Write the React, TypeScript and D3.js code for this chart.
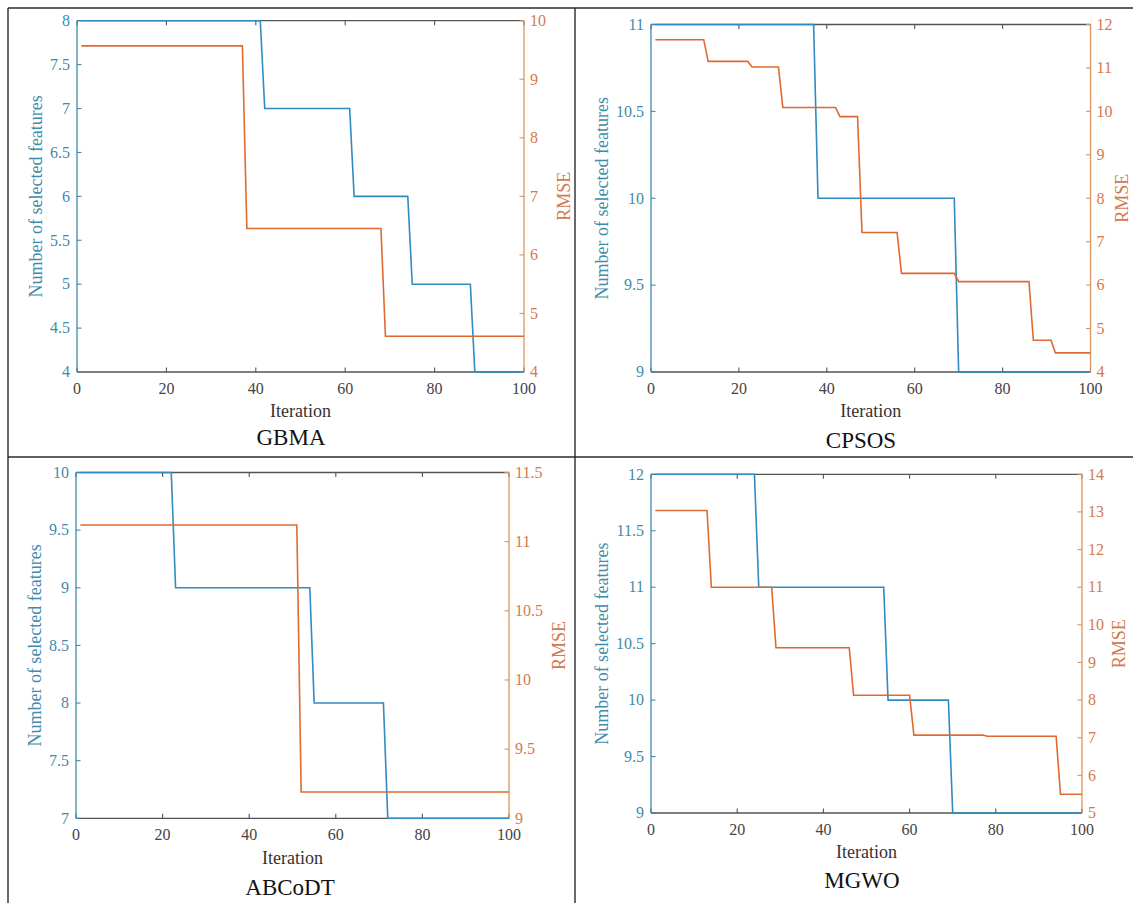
import React from "react";
import * as d3 from "d3";

// Shared iteration axis
const iterTicks = [0, 20, 40, 60, 80, 100];

// GBMA: vertices of the convergence curves (iteration, value)
const gbmaFeatIter = [1, 41, 42, 61, 62, 74, 75, 88, 89, 100];
const gbmaFeatVal = [8, 8, 7, 7, 6, 6, 5, 5, 4, 4];
const gbmaRmseIter = [1, 37, 38, 68, 69, 100];
const gbmaRmseVal = [9.57, 9.57, 6.45, 6.45, 4.61, 4.61];
const gbmaFeatTicks = [4, 4.5, 5, 5.5, 6, 6.5, 7, 7.5, 8];
const gbmaRmseTicks = [4, 5, 6, 7, 8, 9, 10];

// CPSOS
const cpsosFeatIter = [1, 37, 38, 69, 70, 100];
const cpsosFeatVal = [11, 11, 10, 10, 9, 9];
const cpsosRmseIter = [1, 12, 13, 22, 23, 29, 30, 42, 43, 47, 48, 56, 57, 69, 70, 86, 87, 91, 92, 100];
const cpsosRmseVal = [11.65, 11.65, 11.15, 11.15, 11.02, 11.02, 10.09, 10.09, 9.88, 9.88, 7.21, 7.21, 6.27, 6.27, 6.08, 6.08, 4.73, 4.73, 4.44, 4.44];
const cpsosFeatTicks = [9, 9.5, 10, 10.5, 11];
const cpsosRmseTicks = [4, 5, 6, 7, 8, 9, 10, 11, 12];

// ABCoDT
const abcFeatIter = [1, 22, 23, 54, 55, 71, 72, 100];
const abcFeatVal = [10, 10, 9, 9, 8, 8, 7, 7];
const abcRmseIter = [1, 51, 52, 100];
const abcRmseVal = [11.12, 11.12, 9.19, 9.19];
const abcFeatTicks = [7, 7.5, 8, 8.5, 9, 9.5, 10];
const abcRmseTicks = [9, 9.5, 10, 10.5, 11, 11.5];

// MGWO
const mgwoFeatIter = [1, 24, 25, 54, 55, 69, 70, 100];
const mgwoFeatVal = [12, 12, 11, 11, 10, 10, 9, 9];
const mgwoRmseIter = [1, 13, 14, 28, 29, 46, 47, 60, 61, 77, 78, 94, 95, 100];
const mgwoRmseVal = [13.04, 13.04, 11.0, 11.0, 9.39, 9.39, 8.13, 8.13, 7.07, 7.07, 7.04, 7.04, 5.5, 5.5];
const mgwoFeatTicks = [9, 9.5, 10, 10.5, 11, 11.5, 12];
const mgwoRmseTicks = [5, 6, 7, 8, 9, 10, 11, 12, 13, 14];

const titles = ["GBMA", "CPSOS", "ABCoDT", "MGWO"];

const panels = [
  {
    title: titles[0],
    featIter: gbmaFeatIter, featVal: gbmaFeatVal, featTicks: gbmaFeatTicks,
    rmseIter: gbmaRmseIter, rmseVal: gbmaRmseVal, rmseTicks: gbmaRmseTicks,
    box: { left: 77, right: 524, top: 20.7, bottom: 372 },
    titleX: 291, titleY: 445, iterY: 417, featX: 36, rmseX: 564,
  },
  {
    title: titles[1],
    featIter: cpsosFeatIter, featVal: cpsosFeatVal, featTicks: cpsosFeatTicks,
    rmseIter: cpsosRmseIter, rmseVal: cpsosRmseVal, rmseTicks: cpsosRmseTicks,
    box: { left: 651, right: 1090.5, top: 24.5, bottom: 372 },
    titleX: 861, titleY: 448, iterY: 417, featX: 602, rmseX: 1122,
  },
  {
    title: titles[2],
    featIter: abcFeatIter, featVal: abcFeatVal, featTicks: abcFeatTicks,
    rmseIter: abcRmseIter, rmseVal: abcRmseVal, rmseTicks: abcRmseTicks,
    box: { left: 76, right: 509, top: 472.5, bottom: 818.3 },
    titleX: 290, titleY: 895, iterY: 863.5, featX: 34.5, rmseX: 558.5,
  },
  {
    title: titles[3],
    featIter: mgwoFeatIter, featVal: mgwoFeatVal, featTicks: mgwoFeatTicks,
    rmseIter: mgwoRmseIter, rmseVal: mgwoRmseVal, rmseTicks: mgwoRmseTicks,
    box: { left: 651, right: 1082, top: 474.3, bottom: 813 },
    titleX: 862, titleY: 888, iterY: 858, featX: 602, rmseX: 1119,
  },
];

const FONT = "Liberation Serif";
const BLUE_LINE = "#2f8bc2";
const BLUE_AXIS = "#3f8bab";
const ORANGE_LINE = "#df6a30";
const ORANGE_AXIS = "#d27a4e";
const ORANGE_SPINE = "#d9955f";
const GREY = "#555";
const TICK = 4.5;

function Label(props: any) {
  const { children, ...rest } = props;
  return (
    <text {...rest} fontFamily={FONT} style={{ fontFamily: FONT }}>
      {children}
    </text>
  );
}

function Panel({ p }: { p: (typeof panels)[number] }) {
  const { left, right, top, bottom } = p.box;
  const x = d3.scaleLinear().domain([0, 100]).range([left, right]);
  const yL = d3
    .scaleLinear()
    .domain(d3.extent(p.featTicks) as [number, number])
    .range([bottom, top]);
  const yR = d3
    .scaleLinear()
    .domain(d3.extent(p.rmseTicks) as [number, number])
    .range([bottom, top]);

  const featLine = d3
    .line<number>()
    .x((_, i) => x(p.featIter[i]))
    .y((v) => yL(v));
  const rmseLine = d3
    .line<number>()
    .x((_, i) => x(p.rmseIter[i]))
    .y((v) => yR(v));

  const midY = (top + bottom) / 2;
  const midX = (left + right) / 2;

  return (
    <g>
      {/* top and bottom spines */}
      <line x1={left} x2={right} y1={top} y2={top} stroke={GREY} strokeWidth={1.3} />
      <line x1={left} x2={right} y1={bottom} y2={bottom} stroke={GREY} strokeWidth={1.3} />
      {/* x ticks, inward at bottom and top */}
      {iterTicks.map((t) => (
        <g key={"x" + t}>
          <line x1={x(t)} x2={x(t)} y1={bottom} y2={bottom - TICK} stroke={GREY} strokeWidth={1.1} />
          <line x1={x(t)} x2={x(t)} y1={top} y2={top + TICK} stroke={GREY} strokeWidth={1.1} />
          <Label x={x(t)} y={bottom + 22} textAnchor="middle" fontSize={16} fill="#444">
            {t}
          </Label>
        </g>
      ))}
      {/* left axis */}
      <line x1={left} x2={left} y1={top} y2={bottom} stroke={BLUE_AXIS} strokeWidth={1.3} />
      {p.featTicks.map((t) => (
        <g key={"l" + t}>
          <line x1={left} x2={left + TICK} y1={yL(t)} y2={yL(t)} stroke={BLUE_AXIS} strokeWidth={1.1} />
          <Label x={left - 7} y={yL(t)} dy="0.33em" textAnchor="end" fontSize={16} fill={BLUE_AXIS}>
            {t}
          </Label>
        </g>
      ))}
      {/* right axis */}
      <line x1={right} x2={right} y1={top} y2={bottom} stroke={ORANGE_SPINE} strokeWidth={1.3} />
      {p.rmseTicks.map((t) => (
        <g key={"r" + t}>
          <line x1={right} x2={right - TICK} y1={yR(t)} y2={yR(t)} stroke={ORANGE_SPINE} strokeWidth={1.1} />
          <Label x={right + 6} y={yR(t)} dy="0.33em" textAnchor="start" fontSize={16} fill={ORANGE_AXIS}>
            {t}
          </Label>
        </g>
      ))}
      {/* curves */}
      <path d={featLine(p.featVal) || ""} fill="none" stroke={BLUE_LINE} strokeWidth={1.6} />
      <path d={rmseLine(p.rmseVal) || ""} fill="none" stroke={ORANGE_LINE} strokeWidth={1.6} />
      {/* axis titles */}
      <Label x={midX} y={p.iterY} textAnchor="middle" fontSize={18} fill="#333">
        Iteration
      </Label>
      <Label
        transform={`translate(${p.featX},${midY}) rotate(-90)`}
        dy="0.35em"
        textAnchor="middle"
        fontSize={18}
        fill={BLUE_AXIS}
      >
        Number of selected features
      </Label>
      <Label
        transform={`translate(${p.rmseX},${midY}) rotate(-90)`}
        dy="0.35em"
        textAnchor="middle"
        fontSize={18}
        fill={ORANGE_AXIS}
      >
        RMSE
      </Label>
      {/* method name */}
      <Label x={p.titleX} y={p.titleY} textAnchor="middle" fontSize={23} fill="#111">
        {p.title}
      </Label>
    </g>
  );
}

export default function App() {
  const W = 1133;
  const H = 903;
  return (
    <svg
      width={W}
      height={H}
      viewBox={`0 0 ${W} ${H}`}
      style={{ position: "absolute", left: 0, top: 0, background: "#fff" }}
    >
      <rect x={0} y={0} width={W} height={H} fill="#fff" />
      {/* table grid */}
      <g stroke="#2a2a2a" strokeWidth={1.4}>
        <line x1={8} x2={W} y1={8} y2={8} />
        <line x1={8} x2={8} y1={8} y2={H} />
        <line x1={575} x2={575} y1={8} y2={H} />
        <line x1={8} x2={W} y1={457} y2={457} />
      </g>
      {panels.map((p) => (
        <Panel key={p.title} p={p} />
      ))}
    </svg>
  );
}
